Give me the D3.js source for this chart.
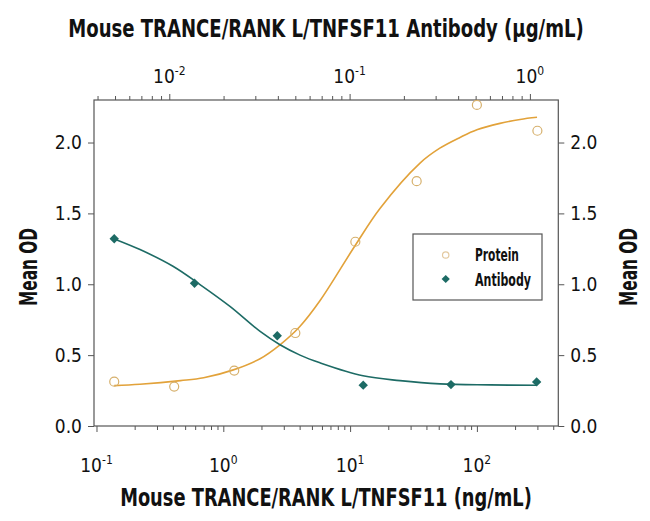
<!DOCTYPE html>
<html>
<head>
<meta charset="utf-8">
<script src="https://cdn.jsdelivr.net/npm/d3@7"></script>
<style>
  html, body { margin: 0; padding: 0; background: #fff; }
  svg { display: block; }
  text { font-family: "Liberation Sans Narrow", "DejaVu Sans Condensed", "Roboto Condensed", sans-serif; fill: #111; }
</style>
</head>
<body>
<svg id="chart" width="650" height="521"></svg>
<script>
// ---- data ----
const proteinX = [0.138, 0.41, 1.22, 3.7, 11, 33.5, 100, 300];          // ng/mL (bottom axis)
const proteinY = [0.313, 0.278, 0.391, 0.656, 1.300, 1.727, 2.265, 2.083];
const antibodyX = [0.00495, 0.0138, 0.0397, 0.119, 0.365, 1.09];        // µg/mL (top axis)
const antibodyY = [1.321, 1.007, 0.637, 0.288, 0.292, 0.311];

// fitted curves
const proteinFitX = [0.138, 0.22, 0.46, 0.7, 1.2, 1.95, 2.8, 4.0, 5.8, 10.9, 17.2, 35.6, 51, 73.6, 100, 152, 219, 298];
const proteinFitY = [0.285, 0.295, 0.32, 0.34, 0.396, 0.475, 0.573, 0.70, 0.885, 1.27, 1.535, 1.855, 1.96, 2.036, 2.09, 2.135, 2.163, 2.178];
const antibodyFitX = [0.00495, 0.00688, 0.01048, 0.0148, 0.0217, 0.0319, 0.0411, 0.0531, 0.0685, 0.1187, 0.1904, 0.3172, 0.6006, 1.095];
const antibodyFitY = [1.32, 1.245, 1.127, 0.998, 0.844, 0.667, 0.573, 0.50, 0.446, 0.354, 0.32, 0.297, 0.29, 0.287];

const bottomTicks = [0.1, 1, 10, 100];
const bottomExps = ["-1", "0", "1", "2"];
const topTicks = [0.01, 0.1, 1];
const topExps = ["-2", "-1", "0"];
const yTicks = [0, 0.5, 1.0, 1.5, 2.0];
const seriesNames = ["Protein", "Antibody"];

const titleTop = "Mouse TRANCE/RANK L/TNFSF11 Antibody (\u03bcg/mL)";
const titleBottom = "Mouse TRANCE/RANK L/TNFSF11 (ng/mL)";
const titleY = "Mean OD";

// ---- layout ----
const L = 94, R = 558.3, T = 100, B = 426;
const orange = "#e2a23a", circleCol = "#d6b06c", teal = "#1d6b65";

const svg = d3.select("#chart");

const xB = d3.scaleLog().domain([Math.pow(10, -1.0197), Math.pow(10, 2.642)]).range([L, R]);
const xT = d3.scaleLog().domain([Math.pow(10, -2.4176), Math.pow(10, 0.1575)]).range([L, R]);
const y = d3.scaleLinear().domain([0, 2.30]).range([B, T]);

const axisCol = "#555";

function minorTicks(scale) {
  const [a, b] = scale.domain();
  return scale.ticks().filter(v => v >= a && v <= b);
}

// condensed text: keep the font size (glyph height), squeeze horizontally to a target width
function condensedText(x, yy, rot, anchor, str, size, target, weight) {
  const g = svg.append("g");
  const t = g.append("text").attr("x", 0).attr("y", 0).attr("text-anchor", anchor)
    .style("font-size", size + "px").style("font-weight", weight).text(str);
  const w = t.node().getComputedTextLength();
  const sx = Math.min(1, target / w);
  g.attr("transform", `translate(${x},${yy}) rotate(${rot}) scale(${sx.toFixed(4)},1)`);
  return g;
}

// bottom axis
const bAxis = d3.axisBottom(xB).tickValues(minorTicks(xB)).tickFormat("")
  .tickSizeInner(4).tickSizeOuter(0);
const gB = svg.append("g").attr("transform", `translate(0,${B})`).call(bAxis);
gB.selectAll(".tick line").attr("y2", d => bottomTicks.some(t => Math.abs(Math.log10(t) - Math.log10(d)) < 1e-6) ? 6 : 4);

// top axis
const tAxis = d3.axisTop(xT).tickValues(minorTicks(xT)).tickFormat("")
  .tickSizeInner(4).tickSizeOuter(0);
const gT = svg.append("g").attr("transform", `translate(0,${T})`).call(tAxis);
gT.selectAll(".tick line").attr("y2", d => topTicks.some(t => Math.abs(Math.log10(t) - Math.log10(d)) < 1e-6) ? -6 : -4);

// left / right axes
const lAxis = d3.axisLeft(y).tickValues(yTicks).tickFormat(d3.format(".1f")).tickSizeInner(6).tickSizeOuter(0).tickPadding(6);
const gL = svg.append("g").attr("transform", `translate(${L},0)`).call(lAxis);
const rAxis = d3.axisRight(y).tickValues(yTicks).tickFormat(d3.format(".1f")).tickSizeInner(6).tickSizeOuter(0).tickPadding(6);
const gR = svg.append("g").attr("transform", `translate(${R},0)`).call(rAxis);

[gB, gT, gL, gR].forEach(g => {
  g.select(".domain").remove();
  g.selectAll(".tick line").attr("stroke", axisCol).attr("stroke-width", 1);
});
[gL, gR].forEach(g => g.selectAll(".tick text").style("font-size", "19px").attr("fill", "#111"));

// frame
svg.append("rect").attr("x", L).attr("y", T).attr("width", R - L).attr("height", B - T)
  .attr("fill", "none").attr("stroke", axisCol).attr("stroke-width", 1.2);

// power-of-ten labels
function powLabels(vals, exps, scale, yBase) {
  vals.forEach((v, i) => {
    const t = svg.append("text").attr("x", scale(v)).attr("y", yBase)
      .attr("text-anchor", "middle").style("font-size", "19px");
    t.append("tspan").text("10");
    t.append("tspan").attr("dy", -8).style("font-size", "12px").text(exps[i]);
  });
}
powLabels(bottomTicks, bottomExps, xB, 472);
powLabels(topTicks, topExps, xT, 83);

// curves
const lineB = d3.line().x(d => xB(d[0])).y(d => y(d[1])).curve(d3.curveCatmullRom.alpha(0.5));
const lineT = d3.line().x(d => xT(d[0])).y(d => y(d[1])).curve(d3.curveCatmullRom.alpha(0.5));
svg.append("path").datum(proteinFitX.map((x, i) => [x, proteinFitY[i]]))
  .attr("d", lineB).attr("fill", "none").attr("stroke", orange).attr("stroke-width", 1.6);
svg.append("path").datum(antibodyFitX.map((x, i) => [x, antibodyFitY[i]]))
  .attr("d", lineT).attr("fill", "none").attr("stroke", teal).attr("stroke-width", 1.6);

// points
svg.append("g").selectAll("circle").data(proteinX.map((x, i) => [x, proteinY[i]])).join("circle")
  .attr("cx", d => xB(d[0])).attr("cy", d => y(d[1])).attr("r", 4.5)
  .attr("fill", "none").attr("stroke", circleCol).attr("stroke-width", 1.2);
const diamond = d3.symbol().type(d3.symbolSquare).size(44);
svg.append("g").selectAll("path").data(antibodyX.map((x, i) => [x, antibodyY[i]])).join("path")
  .attr("d", diamond)
  .attr("transform", d => `translate(${xT(d[0])},${y(d[1])}) rotate(45)`)
  .attr("fill", teal);

// legend
svg.append("rect").attr("x", 413).attr("y", 234).attr("width", 129).attr("height", 66)
  .attr("fill", "#fff").attr("stroke", axisCol).attr("stroke-width", 1.2);
svg.append("circle").attr("cx", 445.7).attr("cy", 255).attr("r", 3.2)
  .attr("fill", "none").attr("stroke", "#e3c9a0").attr("stroke-width", 1.2);
svg.append("path").attr("d", d3.symbol().type(d3.symbolSquare).size(34))
  .attr("transform", "translate(445.7,279) rotate(45)").attr("fill", teal);
condensedText(475, 261, 0, "start", seriesNames[0], 17, 44, "bold");
condensedText(475, 285.5, 0, "start", seriesNames[1], 17, 56, "bold");

// titles
condensedText(326, 37, 0, "middle", titleTop, 25, 516, "bold");
condensedText(326, 506, 0, "middle", titleBottom, 25, 412, "bold");
condensedText(37, 267, -90, "middle", titleY, 25, 78, "bold");
condensedText(637, 267, -90, "middle", titleY, 25, 78, "bold");
</script>
</body>
</html>
